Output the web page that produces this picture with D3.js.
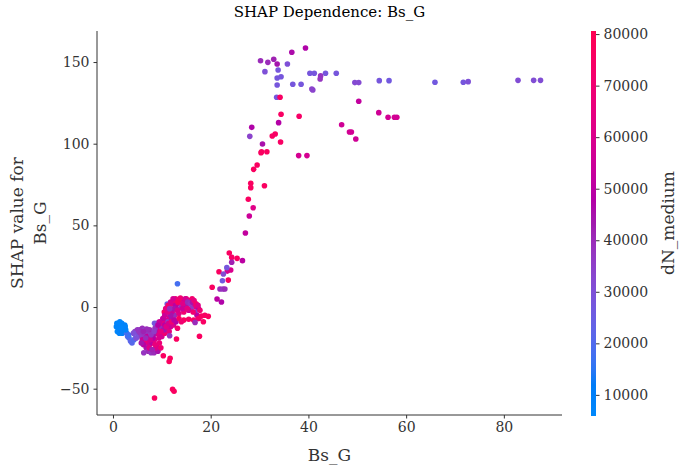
<!DOCTYPE html>
<html>
<head>
<meta charset="utf-8">
<script src="https://cdn.jsdelivr.net/npm/d3@7"></script>
<style>
  body { margin: 0; background: #fff; }
  text { font-family: "DejaVu Serif", serif; }
</style>
</head>
<body>
<div id="chart"></div>
<script>
// Bs_G values (x), SHAP values (y), dN_medium (colour)
var bsG = [
  30.2,31.7,32.9,33.6,36.6,39.4,31.1,33.8,33.6,34.4,35.7,33.6,36.8,38.5,40.3,41.2,42.5,42.4,43.5,40.9,40.7,45.7,
  33.5,34.2,34.4,38.1,33.9,28.4,28.0,32.6,33.2,34.3,30.6,30.3,30.4,31.5,38.0,39.7,29.5,28.8,28.2,28.2,31.0,27.7,28.7,27.9,
  46.8,49.5,50.3,50.3,54.5,56.5,54.4,56.3,57.6,58.1,48.4,48.8,49.7,65.9,71.7,72.7,82.9,86.1,87.5,
  27.1,23.8,24.3,25.4,26.5,24.3,21.7,23.4,24.1,23.3,22.6,23.6,22.4,21.9,22.5,22.9,20.3,21.3,22.2,13.2,
  19.5,17.7,13.0,10.3,11.7,11.5,12.2,12.5,8.5,
  // bright blue cluster
  0.8,1.0,1.2,1.5,1.8,2.1,2.4,0.9,1.3,1.7,2.2,2.5,1.1,1.9,
  // blue trail
  2.8,3.0,3.3,3.6,3.9,4.3,3.2,4.6,
  // purple chain
  4.5,5.0,5.5,6.0,6.5,7.0,7.5,8.0,5.2,5.8,6.4,7.2,8.2,4.8,6.9,
  // lower cluster
  6.0,6.5,7.0,7.5,8.0,8.5,9.0,9.5,6.8,7.2,7.8,8.4,9.2,6.3,8.8,9.8,7.0,8.2,
  // diagonal
  8.8,9.2,9.6,10.0,10.3,10.6,11.0,11.3,11.6,12.0,12.3,12.6,9.4,10.0,10.6,11.2,11.8,12.4,9.0,10.8,11.5,12.9,13.2,10.2,
  // upper cluster
  11.0,11.5,12.0,12.5,13.0,13.5,14.0,14.5,15.0,15.5,16.0,16.5,17.0,17.5,12.0,13.0,14.0,15.0,16.0,16.8,17.2,17.6,
  13.5,14.5,15.5,12.8,16.2,14.0,11.8,10.5,
  // red streak and extras
  13.5,14.5,15.5,16.5,17.5,18.5,18.8,14.0,18.1,11.6,16.8,11.1,8.5,
  // more in the dense part
  10.8,11.3,11.8,12.3,12.8,13.3,13.8,14.3,14.8,15.3,15.8,16.3,16.6,17.0,17.4,17.8,12.5,13.2,14.2,15.2,16.4,10.6,11.2,11.6,
  9.5,10.4,10.9,11.4,12.0,12.5,9.8,8.6,9.2,
  6.2,7.4,8.0,8.6,9.4,7.6,5.8,6.7,
  4.2,5.4,6.2,7.8,8.4,
  1.4,2.0,2.6,1.6,0.7
];
var shapVal = [
  150.8,149.8,151.7,148.8,156.0,158.6,144.1,145.1,140.2,141.0,148.8,135.9,136.4,136.4,143.1,143.1,141.5,139.6,143.1,132.9,133.5,143.1,
  128.4,128.4,118.0,116.8,112.9,110.0,104.5,104.7,105.9,101.0,99.8,94.5,95.1,95.1,92.7,92.7,87.0,84.3,75.8,73.1,74.3,66.0,60.8,55.7,
  111.6,137.4,137.4,126.0,138.6,138.6,119.0,116.2,116.2,116.2,107.2,107.2,102.9,137.6,137.6,138.0,138.8,138.8,138.8,
  45.3,33.1,30.4,29.8,28.4,27.4,21.6,22.0,22.7,24.1,20.2,16.5,16.1,11.0,11.0,11.0,12.1,4.9,3.1,14.3,
  -5.7,-17.9,-19.6,-29.8,-31.4,-33.3,-50.4,-51.6,-55.7,
  -10,-12,-14,-11,-10,-13,-11,-15,-16,-14,-15,-12,-10.5,-16,
  -16,-18,-19,-21,-22,-20,-17,-19,
  -15,-14,-14,-13,-14,-15,-14,-16,-17,-18,-17,-19,-18,-19,-13.5,
  -20,-22,-21,-23,-22,-20,-24,-22,-25,-27,-28,-28,-27,-28,-25,-25,-18,-19,
  -16,-14,-12,-13,-10,-11,-8,-9,-6,-7,-4,-5,-17,-18,-16,-14,-12,-11,-10,-4,-15,-9,-13,-7,
  -2,0,2,3,4,2,4,3,5,4,3,1,0,-1,-3,-1,0,1,-1,-3,-5,-7,
  -4,-3,-2,5,5,1.5,-5,-3,
  -7,-8,-7.5,-8,-7,-9,-5,-9,-5.5,-17.6,-9.4,1.8,-10,
  -1,1,3,5,1,3,5.5,2,5,3,2,3,4,2,1,-2,-1,-2,-1,-1,-3,-5,-3,-1,
  -9,-14,-12,-10,-9,-8,-15,-13,-11,
  -23,-25,-26,-23,-19,-20,-22,-19,
  -16,-15.5,-15,-17,-15,
  -9,-11.5,-14,-12.5,-12
];
var dNMedium = [
  40000,40000,42000,44000,46000,47000,30000,28000,28000,28000,30000,28000,28000,28000,28000,28000,38000,38000,28000,34000,34000,28000,
  28000,75000,75000,74000,48000,47000,34000,75000,75000,75000,45000,76000,76000,76000,58000,58000,76000,76000,76000,76000,76000,76000,62000,55000,
  56000,32000,32000,52000,28000,27000,56000,57000,57000,57000,57000,57000,56000,27000,28000,30000,31000,31000,31000,
  52000,76000,74000,76000,50000,42000,76000,58000,60000,28000,32000,76000,27000,40000,38000,40000,76000,50000,47000,18000,
  76000,76000,76000,76000,76000,76000,76000,76000,76000,
  8000,8500,7500,9000,8000,8500,9000,7500,8000,9500,8500,8000,7000,9000,
  18000,20000,19000,22000,21000,20000,17000,24000,
  36000,38000,37000,40000,35000,38000,40000,42000,28000,36000,38000,40000,42000,30000,40000,
  55000,60000,65000,58000,50000,62000,55000,68000,45000,40000,38000,40000,45000,38000,60000,70000,52000,48000,
  45000,55000,60000,40000,65000,50000,58000,35000,62000,45000,70000,40000,62000,58000,70000,42000,55000,60000,30000,28000,65000,48000,72000,52000,
  60000,70000,65000,75000,72000,60000,68000,55000,72000,62000,70000,58000,65000,50000,55000,42000,40000,45000,38000,35000,50000,60000,
  62000,70000,55000,68000,72000,38000,45000,75000,
  75000,76000,74000,75000,72000,75000,75000,70000,75000,38000,40000,25000,28000,
  65000,72000,60000,58000,50000,76000,70000,62000,58000,40000,38000,45000,66000,72000,62000,70000,45000,60000,55000,65000,70000,55000,62000,40000,
  55000,45000,62000,58000,70000,50000,65000,38000,48000,
  50000,62000,42000,66000,60000,58000,44000,40000,
  30000,38000,42000,38000,36000,
  7500,8000,8500,7000,8000
];
var xTicks = [0, 20, 40, 60, 80];
var yTicks = [-50, 0, 50, 100, 150];
var cTicks = [10000, 20000, 30000, 40000, 50000, 60000, 70000, 80000];

var W = 689, H = 474;
var plot = {left: 97, top: 31, right: 562, bottom: 415};
var cbar = {x: 591, w: 5};

var svg = d3.select("#chart").append("svg")
    .attr("width", W).attr("height", H);

var x = d3.scaleLinear().domain([-3.27, 91.9]).range([plot.left, plot.right]);
var y = d3.scaleLinear().domain([-66.1, 169.0]).range([plot.bottom, plot.top]);

// shap red_blue colormap, built in LCh like the python version
function redBlue(t) {
  t = Math.max(0, Math.min(1, t));
  var l = t < 0.5 ? 54 + (40 - 54) * (t / 0.5) : 40 + (54 - 40) * ((t - 0.5) / 0.5);
  var c = 70 + (90 - 70) * t;
  var h = 266.93 + (380.32 - 266.93) * t;
  return d3.hcl(h % 360, c, l).formatHex();
}
var cDomain = [5900, 80600];
var color = function(v) { return redBlue((v - cDomain[0]) / (cDomain[1] - cDomain[0])); };

// points
var pts = bsG.map(function(d, i) { return {x: d, y: shapVal[i], c: dNMedium[i]}; });
svg.append("g").selectAll("circle")
    .data(pts)
  .enter().append("circle")
    .attr("cx", function(d) { return x(d.x); })
    .attr("cy", function(d) { return y(d.y); })
    .attr("r", 2.8)
    .attr("fill", function(d) { return color(d.c); });

// axes
var xAxis = svg.append("g")
    .attr("transform", "translate(0," + plot.bottom + ")")
    .call(d3.axisBottom(x).tickValues(xTicks).tickSize(3.5).tickPadding(4));
var yAxis = svg.append("g")
    .attr("transform", "translate(" + plot.left + ",0)")
    .call(d3.axisLeft(y).tickValues(yTicks).tickSize(3.5).tickPadding(4)
      .tickFormat(function(d) { return d < 0 ? "\u2212" + Math.abs(d) : d; }));
[xAxis, yAxis].forEach(function(a) {
  a.selectAll("path.domain").attr("stroke", "#333").attr("stroke-width", 1)
    .attr("d", a === xAxis ? "M" + plot.left + ",0H" + plot.right : "M0," + plot.top + "V" + plot.bottom);
  a.selectAll(".tick line").attr("stroke", "#333");
  a.selectAll(".tick text").attr("fill", "#333").style("font-size", "14px")
    .style("font-family", "DejaVu Serif");
});

svg.append("text")
    .attr("x", (plot.left + plot.right) / 2).attr("y", 17)
    .attr("text-anchor", "middle").style("font-size", "15px").attr("fill", "#000")
    .text("SHAP Dependence: Bs_G");

svg.append("text")
    .attr("x", (plot.left + plot.right) / 2).attr("y", 461)
    .attr("text-anchor", "middle").style("font-size", "17px").attr("fill", "#333")
    .text("Bs_G");

var yl = svg.append("text")
    .attr("transform", "translate(23," + ((plot.top + plot.bottom) / 2) + ") rotate(-90)")
    .attr("text-anchor", "middle").style("font-size", "17px").attr("fill", "#333");
yl.append("tspan").attr("x", 0).attr("dy", 0).text("SHAP value for");
yl.append("tspan").attr("x", 0).attr("dy", 23).text("Bs_G");

// colorbar
var cy = d3.scaleLinear().domain(cDomain).range([416, 31]);
var grad = svg.append("defs").append("linearGradient")
    .attr("id", "cgrad").attr("x1", 0).attr("y1", 1).attr("x2", 0).attr("y2", 0);
d3.range(0, 1.0001, 0.02).forEach(function(t) {
  grad.append("stop").attr("offset", t).attr("stop-color", redBlue(t));
});
svg.append("rect")
    .attr("x", cbar.x).attr("y", cy(cDomain[1]))
    .attr("width", cbar.w).attr("height", cy(cDomain[0]) - cy(cDomain[1]))
    .attr("fill", "url(#cgrad)");
var cAxis = svg.append("g")
    .attr("transform", "translate(" + (cbar.x + cbar.w) + ",0)")
    .call(d3.axisRight(cy).tickValues(cTicks).tickSize(3.5).tickPadding(4).tickFormat(d3.format("d")));
cAxis.select("path.domain").remove();
cAxis.selectAll(".tick line").attr("stroke", "#333");
cAxis.selectAll(".tick text").attr("fill", "#333").style("font-size", "14px")
    .style("font-family", "DejaVu Serif");

svg.append("text")
    .attr("transform", "translate(674," + ((plot.top + plot.bottom) / 2) + ") rotate(-90)")
    .attr("text-anchor", "middle").style("font-size", "17px").attr("fill", "#333")
    .text("dN_medium");
</script>
</body>
</html>
